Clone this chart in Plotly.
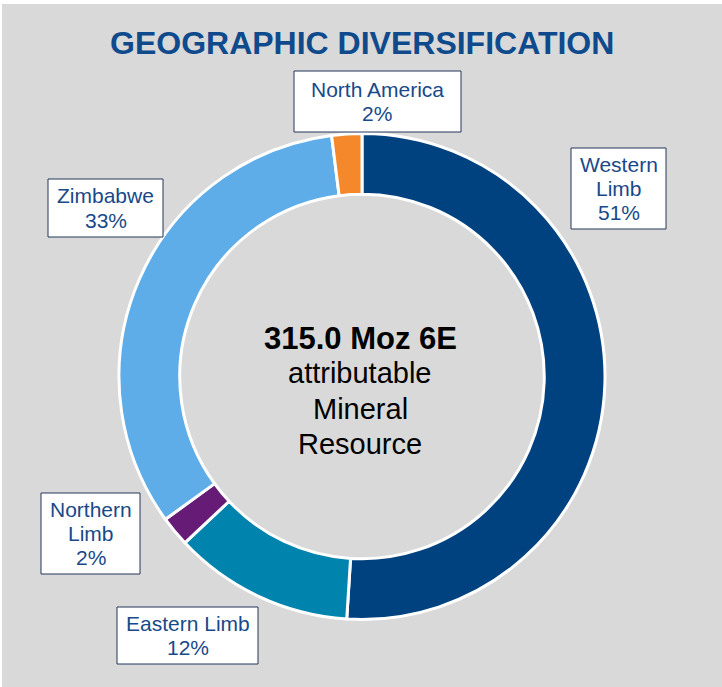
import plotly.graph_objects as go

# ---- data ----
regions = ["Western Limb", "Eastern Limb", "Northern Limb", "Zimbabwe", "North America"]
shares = [51, 12, 2, 33, 2]
colors = ["#00427f", "#0084ae", "#661b76", "#5eade8", "#f5882b"]
label_lines = [["Western", "Limb"], ["Eastern Limb"], ["Northern", "Limb"], ["Zimbabwe"], ["North America"]]
center_lines = ["315.0 Moz 6E", "attributable", "Mineral", "Resource"]
title_text = "GEOGRAPHIC DIVERSIFICATION"

W, H = 722, 687

def px(x):
    return x / W

def py(y):
    return 1 - y / H

# donut geometry (pixels)
cx, cy, r = 362, 376.5, 243

fig = go.Figure(go.Pie(
    labels=regions,
    values=shares,
    marker=dict(colors=colors, line=dict(color="white", width=3)),
    hole=0.75,
    sort=False,
    direction="clockwise",
    rotation=0,
    textinfo="none",
    hoverinfo="none",
    showlegend=False,
    domain=dict(x=[px(cx - r), px(cx + r)], y=[py(cy + r), py(cy - r)]),
))

FONT = "Liberation Sans, Arial"
annotations = []
shapes = [
    dict(type="rect", xref="paper", yref="paper", x0=0, x1=1, y0=py(4), y1=1,
         fillcolor="white", line=dict(width=0), layer="above"),
    dict(type="rect", xref="paper", yref="paper", x0=0, x1=px(2), y0=0, y1=1,
         fillcolor="white", line=dict(width=0), layer="above"),
]

# title
annotations.append(dict(
    text="<b>" + title_text + "</b>", x=px(361.5), y=py(43.5), xref="paper", yref="paper",
    xanchor="center", yanchor="middle", showarrow=False,
    font=dict(family=FONT, size=32, color="#0f4a8c"),
))

# slice label boxes: center x, center y, width, height
box_pos = [(618.5, 188.5, 95, 81), (187.5, 635.5, 141, 57), (90.5, 533.5, 99, 81),
           (105.5, 208, 115, 58), (377.5, 101.5, 167, 61)]
LS = 24.4
for lines, v, (bx, by, bw, bh) in zip(label_lines, shares, box_pos):
    shapes.append(dict(
        type="rect", xref="paper", yref="paper",
        x0=px(bx - bw / 2), x1=px(bx + bw / 2), y0=py(by + bh / 2), y1=py(by - bh / 2),
        fillcolor="white", line=dict(color="#22365a", width=1), layer="above",
    ))
    all_lines = lines + [f"{v}%"]
    n = len(all_lines)
    for i, t in enumerate(all_lines):
        yy = by + (i - (n - 1) / 2) * LS
        annotations.append(dict(
            text=t, x=px(bx), y=py(yy), xref="paper", yref="paper",
            xanchor="center", yanchor="middle", showarrow=False,
            font=dict(family=FONT, size=21, color="#18498a"),
        ))

# center text
center_y = [339, 373, 409, 444]
for i, (t, yy) in enumerate(zip(center_lines, center_y)):
    annotations.append(dict(
        text=("<b>" + t + "</b>") if i == 0 else t, x=px(360), y=py(yy),
        xref="paper", yref="paper", xanchor="center", yanchor="middle", showarrow=False,
        font=dict(family=FONT, size=31 if i == 0 else 29, color="black"),
    ))

fig.update_layout(
    width=W, height=H,
    margin=dict(l=0, r=0, t=0, b=0),
    paper_bgcolor="#d9d9d9",
    plot_bgcolor="#d9d9d9",
    annotations=annotations,
    shapes=shapes,
)

fig.write_html("out.html", config={"displayModeBar": False},
               post_script="document.body.style.margin='0px';")
